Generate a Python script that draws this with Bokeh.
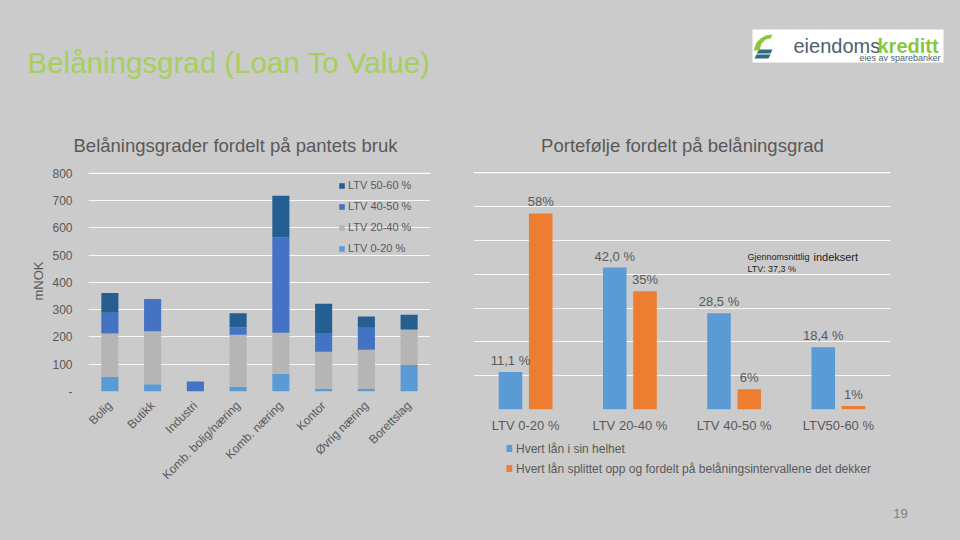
import numpy as np
from bokeh.plotting import figure
from bokeh.models import (Range1d, FactorRange, FixedTicker, Legend, LegendItem,
                          Label, ColumnDataSource, Span)
from bokeh.layouts import column, row
from bokeh.transform import dodge
from bokeh.core.properties import value
from bokeh.embed import file_html
from bokeh.resources import INLINE

BG = "#cbcbcb"
FONT = "Liberation Sans"
TXT = "#595959"

# ---------------- data: left chart ----------------
uses = ["Bolig", "Butikk", "Industri", "Komb. bolig/næring", "Komb. næring",
        "Kontor", "Øvrig næring", "Borettslag"]
ltv_0_20 = [54, 27, 0, 17, 64, 10, 10, 97]
ltv_20_40 = [159, 194, 0, 191, 151, 136, 143, 129]
ltv_40_50 = [76, 118, 37, 27, 350, 68, 81, 3]
ltv_50_60 = [72, 0, 0, 52, 152, 108, 41, 52]
stack_names = ["LTV 0-20 %", "LTV 20-40 %", "LTV 40-50 %", "LTV 50-60 %"]
stack_colors = ["#5b9bd5", "#b5b5b5", "#4472c4", "#255e91"]
left_ticks = [0, 100, 200, 300, 400, 500, 600, 700, 800]

# ---------------- data: right chart ----------------
buckets = ["LTV 0-20 %", "LTV 20-40 %", "LTV 40-50 %", "LTV50-60 %"]
whole = [11.1, 42.0, 28.5, 18.4]
split = [58, 35, 6, 1]
whole_labels = ["11,1 %", "42,0 %", "28,5 %", "18,4 %"]
split_labels = ["58%", "35%", "6%", "1%"]
series_names = ["Hvert lån i sin helhet",
                "Hvert lån splittet opp og fordelt på belåningsintervallene det dekker"]
series_colors = ["#5b9bd5", "#ed7d31"]
right_ticks = [0, 10, 20, 30, 40, 50, 60, 70]


def blank(w, h, yr):
    f = figure(width=w, height=h, x_range=Range1d(0, w), y_range=Range1d(yr, 0),
               x_axis_type=None, y_axis_type=None, output_backend="svg",
               toolbar_location=None, min_border=0,
               background_fill_color=BG, border_fill_color=BG, outline_line_color=None)
    f.grid.visible = False
    return f


# ---------------- header ----------------
head = blank(960, 160, 160)
head.text(x=[27], y=[62], text=["Belåningsgrad (Loan To Value)"],
          text_font=value(FONT), text_font_size="29.5px", text_color="#a6cf5c",
          text_baseline="middle", text_align="left")
head.text(x=[235, 682], y=[145, 145],
          text=["Belåningsgrader fordelt på pantets bruk", "Portefølje fordelt på belåningsgrad"],
          text_font=value(FONT), text_font_size="18.5px", text_color=TXT,
          text_baseline="middle", text_align="center")
# logo
head.quad(left=[752], right=[943], top=[29], bottom=[62], color="white", line_color=None)
head.patch(x=[753, 756, 760, 765, 772, 770, 765, 761, 759],
           y=[50, 42, 38, 35, 34, 38, 39, 43, 50], color="#8cc63f", line_color=None)
head.patch(x=[756, 770, 772, 759], y=[53, 53, 49, 49], color="#2f6b7c", line_color=None)
head.patch(x=[754, 768, 770, 756], y=[58, 58, 54, 54], color="#2f6b7c", line_color=None)
head.text(x=[793], y=[45], text=["eiendoms"], text_font=value(FONT), text_font_size="20px",
          text_color="#4d5f6b", text_baseline="alphabetic", text_align="left")
head.text(x=[877], y=[45], text=["kreditt"], text_font=value(FONT), text_font_size="20px",
          text_font_style="bold", text_color="#8cc63f", text_baseline="alphabetic",
          text_align="left")
head.text(x=[940], y=[57], text=["eies av sparebanker"], text_font=value(FONT),
          text_font_size="9px", text_color="#4d5f6b", text_baseline="alphabetic",
          text_align="right")

# ---------------- left chart ----------------
left = figure(width=460, height=330, x_range=FactorRange(*uses),
              y_range=Range1d(0, 810), output_backend="svg", toolbar_location=None,
              min_border_left=88, min_border_right=30, min_border_top=10, min_border_bottom=99,
              background_fill_color=BG, border_fill_color=BG, outline_line_color=None)
src = ColumnDataSource(dict(uses=uses, a=ltv_0_20, b=ltv_20_40, c=ltv_40_50, d=ltv_50_60))
left.add_layout(Span(location=left_ticks[-1], dimension="width", line_color="white",
                     line_alpha=0.85, line_width=1, level="underlay"))
rs = left.vbar_stack(["a", "b", "c", "d"], x="uses", width=0.4, color=stack_colors,
                     line_color=None, source=src)
left.xgrid.visible = False
left.ygrid.ticker = FixedTicker(ticks=left_ticks)
left.ygrid.grid_line_color = "white"
left.ygrid.grid_line_alpha = 0.85
left.yaxis.ticker = FixedTicker(ticks=left_ticks)
left.yaxis.major_label_overrides = {0: "-"}
left.yaxis.axis_label = "mNOK"
left.yaxis.axis_label_text_font_style = "normal"
left.yaxis.axis_label_text_font_size = "13px"
left.yaxis.axis_label_text_color = TXT
left.yaxis.axis_label_text_font = FONT
left.yaxis.axis_label_standoff = 3
for ax in (left.xaxis, left.yaxis):
    ax.axis_line_color = None
    ax.major_tick_line_color = None
    ax.minor_tick_line_color = None
    ax.major_tick_out = 0
    ax.minor_tick_out = 0
    ax.major_label_text_color = TXT
    ax.major_label_text_font = FONT
left.yaxis.major_label_text_font_size = "12px"
left.yaxis.major_label_standoff = 16
left.xaxis.major_label_text_font_size = "12px"
left.xaxis.major_label_orientation = np.pi / 4
left.xaxis.major_label_standoff = 12
leg = Legend(items=[LegendItem(label=stack_names[i], renderers=[rs[i]]) for i in range(3, -1, -1)],
             location=(250, 136), background_fill_alpha=0, border_line_color=None,
             padding=0, margin=0, spacing=7, glyph_width=7, glyph_height=7, label_height=14,
             label_standoff=3, label_text_font_size="11px", label_text_color=TXT,
             label_text_font=FONT)
left.add_layout(leg)

# ---------------- right chart ----------------
right = figure(width=500, height=275, x_range=FactorRange(*buckets),
               y_range=Range1d(0, 71), output_backend="svg", toolbar_location=None,
               min_border_left=13, min_border_right=70, min_border_top=9, min_border_bottom=26,
               background_fill_color=BG, border_fill_color=BG, outline_line_color=None)
right.add_layout(Span(location=right_ticks[-1], dimension="width", line_color="white",
                      line_alpha=0.85, line_width=1, level="underlay"))
rsrc = ColumnDataSource(dict(b=buckets, w=whole, s=split, wl=whole_labels, sl=split_labels))
r1 = right.vbar(x=dodge("b", -0.145, range=right.x_range), top="w", width=0.226,
                color=series_colors[0], line_color=None, source=rsrc)
r2 = right.vbar(x=dodge("b", 0.145, range=right.x_range), top="s", width=0.226,
                color=series_colors[1], line_color=None, source=rsrc)
right.text(x=dodge("b", -0.145, range=right.x_range), y="w", text="wl", source=rsrc,
           text_font=value(FONT), text_font_size="13px", text_color=TXT,
           text_align="center", text_baseline="bottom", y_offset=-4)
right.text(x=dodge("b", 0.145, range=right.x_range), y="s", text="sl", source=rsrc,
           text_font=value(FONT), text_font_size="13px", text_color=TXT,
           text_align="center", text_baseline="bottom", y_offset=-4)
right.yaxis.visible = False
right.xgrid.visible = False
right.ygrid.ticker = FixedTicker(ticks=right_ticks)
right.ygrid.grid_line_color = "white"
right.ygrid.grid_line_alpha = 0.85
right.xaxis.axis_line_color = None
right.xaxis.major_tick_line_color = None
right.xaxis.major_tick_out = 0
right.xaxis.major_label_text_color = TXT
right.xaxis.major_label_text_font = FONT
right.xaxis.major_label_text_font_size = "13px"
right.xaxis.major_label_standoff = 8
right.add_layout(Label(x=2.628, y=45.0, text="Gjennomsnittlig", text_font=FONT,
                       text_font_size="9px", text_color="#1e1e1e", text_baseline="alphabetic"))
right.add_layout(Label(x=3.261, y=45.0, text="indeksert", text_font=FONT,
                       text_font_size="11px", text_color="#1e1e1e", text_baseline="alphabetic"))
right.add_layout(Label(x=2.628, y=41.6, text="LTV: 37,3 %", text_font=FONT,
                       text_font_size="9px", text_color="#1e1e1e", text_baseline="alphabetic"))

# legend for the right chart, drawn in its own strip below it
legfig = blank(500, 55, 55)
legfig.rect(x=[43, 43], y=[13, 33], width=7, height=7, color=series_colors, line_color=None)
legfig.text(x=[51, 51], y=[13, 33], text=series_names, text_font=value(FONT),
            text_font_size="12px", text_color=TXT, text_baseline="middle", text_align="left")

# ---------------- footer ----------------
foot = blank(960, 50, 50)
foot.text(x=[900], y=[23], text=["19"], text_font=value(FONT), text_font_size="13px",
          text_color="#7f7f7f", text_baseline="middle", text_align="center")

bgstyle = {"background-color": BG}
layout = column(head,
                row(column(left, styles=bgstyle),
                    column(right, legfig, spacing=0, styles=bgstyle),
                    spacing=0, styles=bgstyle),
                foot, spacing=0, styles=bgstyle)
open("out.html", "w").write(file_html(layout, INLINE))
